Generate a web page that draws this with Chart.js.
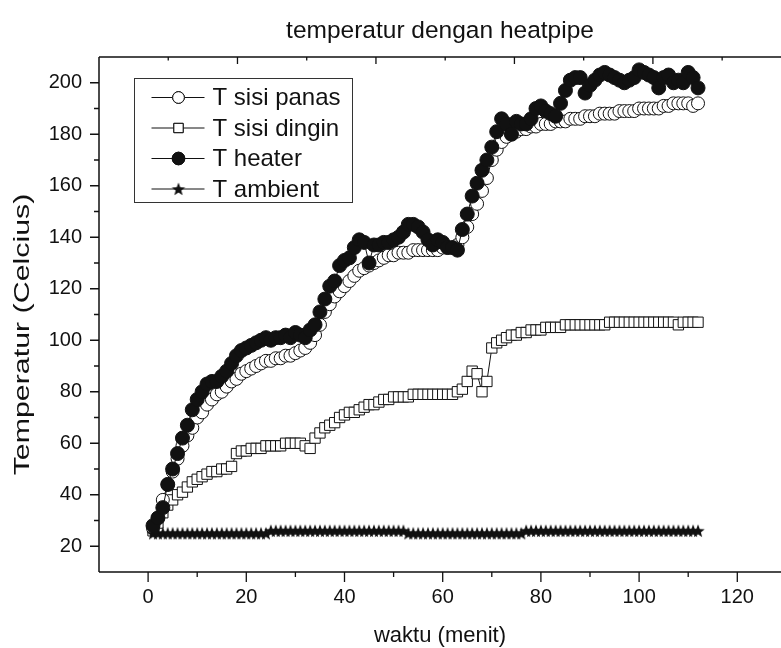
<!DOCTYPE html>
<html>
<head>
<meta charset="utf-8">
<script src="https://cdn.jsdelivr.net/npm/chart.js@4.4.1/dist/chart.umd.min.js"></script>
<style>
  html, body { margin: 0; padding: 0; background: #ffffff; overflow: hidden; }
  #wrap { position: relative; width: 781px; height: 648px; }
</style>
</head>
<body>
<div id="wrap"><canvas id="c"></canvas></div>
<script>
// ---------- data ----------
const time = [1,2,3,4,5,6,7,8,9,10,11,12,13,14,15,16,17,18,19,20,21,22,23,24,25,26,27,28,29,30,
  31,32,33,34,35,36,37,38,39,40,41,42,43,44,45,46,47,48,49,50,51,52,53,54,55,56,57,58,59,60,
  61,62,63,64,65,66,67,68,69,70,71,72,73,74,75,76,77,78,79,80,81,82,83,84,85,86,87,88,89,90,
  91,92,93,94,95,96,97,98,99,100,101,102,103,104,105,106,107,108,109,110,111,112];

const tSisiPanas = [27,31,38,44,49,54,59,63,66,70, 72,75,77,79,80,82,84,85,87,88,
  89,90,91,92,92,93,93,94,94,95, 96,97,99,102,106,111,114,117,119,121,
  123,125,127,128,129,130,131,132,133,133, 134,134,134,135,135,135,135,135,135,136,
  136,136,137,140,144,149,153,158,163,170, 174,177,179,180,181,182,182,183,183,184,
  184,184,185,185,185,186,186,186,187,187, 187,188,188,188,188,189,189,189,189,190,
  190,190,190,190,191,191,192,192,192,192, 191,192];

const tSisiDingin = [26,29,33,36,38,40,41,43,45,46, 47,48,49,49,50,50,51,56,57,57,
  58,58,58,59,59,59,59,60,60,60, 60,59,58,62,64,66,67,68,70,71,
  72,72,73,74,75,75,76,77,77,78, 78,78,78,79,79,79,79,79,79,79,
  79,79,80,81,84,88,87,80,84,97, 99,100,101,102,102,103,103,104,104,104,
  105,105,105,105,106,106,106,106,106,106, 106,106,106,107,107,107,107,107,107,107,
  107,107,107,107,107,107,107,106,107,107, 107,107];

const tHeater = [28,31,35,44,50,56,62,67,73,77, 80,83,84,84,86,88,91,94,96,97,
  98,99,100,101,100,101,101,102,101,103, 102,101,104,106,111,116,121,123,129,131,
  132,136,139,138,130,137,137,138,138,139, 140,142,145,145,144,142,139,137,139,138,
  136,136,135,143,149,156,161,166,170,175, 181,186,184,180,185,184,184,186,190,191,
  189,188,187,192,197,201,202,202,196,199, 201,203,204,203,202,201,200,201,202,205,
  204,203,202,198,202,203,200,201,200,204, 202,198];

const tAmbient = [25,25,25,25,25,25,25,25,25,25, 25,25,25,25,25,25,25,25,25,25,
  25,25,25,25,26,26,26,26,26,26, 26,26,26,26,26,26,26,26,26,26,
  26,26,26,26,26,26,26,26,26,26, 26,26,25,25,25,25,25,25,25,25,
  25,25,25,25,25,25,25,25,25,25, 25,25,25,25,25,25,26,26,26,26,
  26,26,26,26,26,26,26,26,26,26, 26,26,26,26,26,26,26,26,26,26,
  26,26,26,26,26,26,26,26,26,26, 26,26];

const seriesNames = ['T sisi panas', 'T sisi dingin', 'T heater', 'T ambient'];
const xTickValues = [0, 20, 40, 60, 80, 100, 120];
const xMinorValues = [10, 30, 50, 70, 90, 110];
const yTickValues = [20, 40, 60, 80, 100, 120, 140, 160, 180, 200];
const yMinorValues = [30, 50, 70, 90, 110, 130, 150, 170, 190];
const topMajorValues = [2, 4, 6, 8];
const topMinorValues = [1, 3, 5, 7, 9];
const chartTitle = 'temperatur dengan heatpipe';
const xTitle = 'waktu (menit)';
const yTitle = 'Temperatur (Celcius)';

// ---------- styles ----------
const FONT = "'Liberation Sans', Arial, sans-serif";
const INK = '#111111';

function makeStar(outer, inner) {
  const s = Math.ceil(outer * 2 + 2);
  const c = document.createElement('canvas');
  c.width = s; c.height = s;
  const g = c.getContext('2d');
  g.translate(s / 2, s / 2 + 0.6);
  g.beginPath();
  for (let i = 0; i < 10; i++) {
    const r = i % 2 === 0 ? outer : inner;
    const a = -Math.PI / 2 + i * Math.PI / 5;
    const px = r * Math.cos(a), py = r * Math.sin(a);
    if (i === 0) g.moveTo(px, py); else g.lineTo(px, py);
  }
  g.closePath();
  g.fillStyle = INK;
  g.fill();
  return c;
}
const starImg = makeStar(7, 3);

function pts(ys) { return time.map((t, i) => ({ x: t, y: ys[i] })); }

const datasets = [
  { label: seriesNames[0], data: pts(tSisiPanas), order: 3,
    borderColor: INK, borderWidth: 1, pointStyle: 'circle', pointRadius: 6.5,
    pointBackgroundColor: '#ffffff', pointBorderColor: INK, pointBorderWidth: 1 },
  { label: seriesNames[1], data: pts(tSisiDingin), order: 4,
    borderColor: INK, borderWidth: 1, pointStyle: 'rect', pointRadius: 7.3,
    pointBackgroundColor: '#ffffff', pointBorderColor: INK, pointBorderWidth: 1 },
  { label: seriesNames[2], data: pts(tHeater), order: 1,
    borderColor: INK, borderWidth: 1, pointStyle: 'circle', pointRadius: 7,
    pointBackgroundColor: INK, pointBorderColor: INK, pointBorderWidth: 1 },
  { label: seriesNames[3], data: pts(tAmbient), order: 2,
    borderColor: INK, borderWidth: 1, pointStyle: starImg, pointRadius: 6 }
];

// frame, ticks, legend and y title
const framePlugin = {
  id: 'frame',
  beforeDatasetsDraw(chart) {
    const { ctx, chartArea: ca, scales } = chart;
    const xs = scales.x, ys = scales.y, x2 = scales.x2;
    ctx.save();
    ctx.strokeStyle = INK;
    ctx.lineWidth = 1.5;
    ctx.beginPath();
    ctx.moveTo(ca.left, ca.top); ctx.lineTo(ca.right + 2, ca.top);
    ctx.moveTo(ca.left, ca.top); ctx.lineTo(ca.left, ca.bottom);
    ctx.moveTo(ca.left, ca.bottom); ctx.lineTo(ca.right + 2, ca.bottom);
    ctx.stroke();
    ctx.lineWidth = 1.3;
    ctx.beginPath();
    xTickValues.forEach(v => { const p = xs.getPixelForValue(v); ctx.moveTo(p, ca.bottom); ctx.lineTo(p, ca.bottom + 10); });
    xMinorValues.forEach(v => { const p = xs.getPixelForValue(v); ctx.moveTo(p, ca.bottom); ctx.lineTo(p, ca.bottom + 5); });
    yTickValues.forEach(v => { const p = ys.getPixelForValue(v); ctx.moveTo(ca.left, p); ctx.lineTo(ca.left - 9, p); });
    yMinorValues.forEach(v => { const p = ys.getPixelForValue(v); ctx.moveTo(ca.left, p); ctx.lineTo(ca.left - 5, p); });
    topMajorValues.forEach(v => { const p = x2.getPixelForValue(v); ctx.moveTo(p, ca.top); ctx.lineTo(p, ca.top + 7); });
    topMinorValues.forEach(v => { const p = x2.getPixelForValue(v); ctx.moveTo(p, ca.top); ctx.lineTo(p, ca.top + 3.5); });
    ctx.stroke();
    ctx.restore();
  },
  afterDatasetsDraw(chart) {
    const { ctx, chartArea: ca } = chart;
    const L = ca.left + 35.5, T = ca.top + 21.5, W = 218, H = 124;
    ctx.save();
    ctx.strokeStyle = '#333333';
    ctx.lineWidth = 1;
    ctx.strokeRect(L, T, W, H);
    ctx.font = '24px ' + FONT;
    ctx.textBaseline = 'middle';
    ctx.textAlign = 'left';
    chart.data.datasets.forEach((ds, i) => {
      const cy = T + 19 + i * 30.5;
      const mx = L + 44;
      ctx.strokeStyle = INK;
      ctx.lineWidth = 1;
      ctx.beginPath();
      ctx.moveTo(L + 17, cy); ctx.lineTo(L + 70, cy);
      ctx.stroke();
      if (ds.pointStyle === starImg) {
        ctx.drawImage(starImg, mx - starImg.width / 2, cy - starImg.height / 2);
      } else {
        Chart.helpers.drawPoint(ctx, {
          pointStyle: ds.pointStyle, radius: ds.pointRadius * 0.9, borderWidth: 1, rotation: 0
        }, mx, cy);
        ctx.fillStyle = ds.pointBackgroundColor;
        ctx.fill();
        ctx.strokeStyle = ds.pointBorderColor;
        ctx.stroke();
      }
      ctx.fillStyle = INK;
      ctx.fillText(ds.label, L + 78, cy + 1);
    });
    // y axis title (stretched along its baseline as in the reference)
    ctx.translate(23, (ca.top + ca.bottom) / 2 + 20);
    ctx.rotate(-Math.PI / 2);
    ctx.scale(1.38, 1);
    ctx.font = '22px ' + FONT;
    ctx.textAlign = 'center';
    ctx.textBaseline = 'middle';
    ctx.fillStyle = INK;
    ctx.fillText(yTitle, 0, 0);
    ctx.restore();
  }
};

new Chart(document.getElementById('c'), {
  type: 'line',
  data: { datasets },
  options: {
    responsive: true,
    maintainAspectRatio: false,
    animation: false,
    events: [],
    layout: { autoPadding: false, padding: { left: 0, right: -2, top: 0, bottom: 0 } },
    elements: { line: { tension: 0 } },
    plugins: {
      legend: { display: false },
      tooltip: { enabled: false },
      title: {
        display: true, text: chartTitle, fullSize: false, color: INK,
        font: { family: FONT, size: 24.5, weight: 'normal', lineHeight: 1.2 },
        padding: { top: 17, bottom: 10.6 }
      }
    },
    scales: {
      x: {
        type: 'linear', position: 'bottom', min: -10, max: 128.9,
        afterBuildTicks: s => { s.ticks = xTickValues.map(v => ({ value: v })); },
        afterFit: s => { s.height = 76; s.paddingLeft = 0; s.paddingRight = 0; },
        grid: { display: false, drawTicks: false },
        border: { display: false },
        ticks: { color: INK, padding: 13, font: { family: FONT, size: 20 }, maxRotation: 0 },
        title: { display: true, text: xTitle, color: INK,
          font: { family: FONT, size: 22, lineHeight: 1.0 }, padding: { top: 0, bottom: 1 } }
      },
      x2: {
        type: 'linear', position: 'top', min: 0, max: 9.85,
        grid: { display: false, drawTicks: false },
        border: { display: false },
        ticks: { display: false },
        afterFit: s => { s.height = 0; s.paddingLeft = 0; s.paddingRight = 0; }
      },
      y: {
        type: 'linear', position: 'left', min: 10, max: 210,
        afterBuildTicks: s => { s.ticks = yTickValues.map(v => ({ value: v })); },
        afterFit: s => { s.width = 99; s.paddingTop = 0; s.paddingBottom = 0; },
        grid: { display: false, drawTicks: false },
        border: { display: false },
        ticks: { color: INK, padding: 17, font: { family: FONT, size: 20 } },
        title: { display: false }
      }
    }
  },
  plugins: [framePlugin]
});
</script>
</body>
</html>
